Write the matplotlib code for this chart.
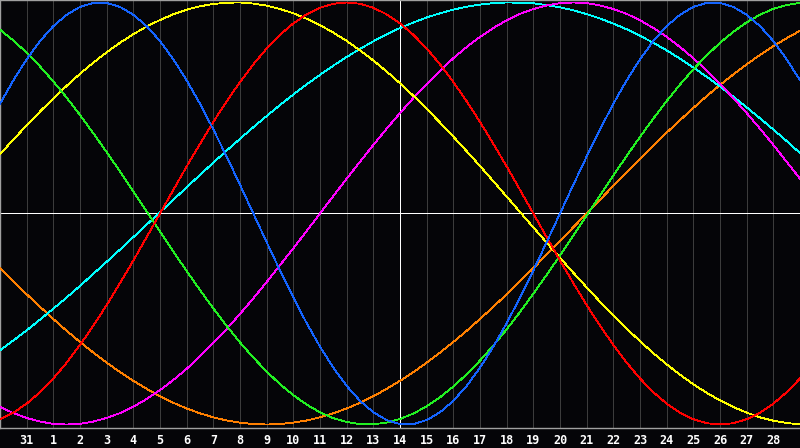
import numpy as np
import matplotlib
matplotlib.use("Agg")
import matplotlib.pyplot as plt

# Day labels along the x axis (index 14 = today, marked by the white line)
day_labels = ["31"] + [str(i) for i in range(1, 29)]
day_pos = list(range(len(day_labels)))
today = 14

# Sample positions: every half day from the left edge (-1) to the right edge (29)
t = np.arange(-2, 59) / 2.0

# Curve values (in thousandths, -1000..1000), every half day
blue = [520,631,731,817,888,942,979,998,998,979,942,888,817,731,631,520,398,270,136,0,-136,-270,-398,-520,-631,-731,-817,-888,-942,-979,-998,-998,-979,-942,-888,-817,-731,-631,-520,-398,-270,-136,0,136,270,398,520,631,731,817,888,942,979,998,998,979,942,888,817,731,631]
red = [-975,-944,-901,-847,-782,-707,-623,-532,-434,-330,-223,-112,0,112,223,330,434,532,623,707,782,847,901,944,975,994,1000,994,975,944,901,847,782,707,623,532,434,330,223,112,0,-112,-223,-330,-434,-532,-623,-707,-782,-847,-901,-944,-975,-994,-1000,-994,-975,-944,-901,-847,-782]
green = [871,820,762,697,626,549,467,380,291,199,105,10,-86,-180,-273,-363,-450,-533,-611,-683,-749,-809,-861,-906,-942,-970,-988,-998,-999,-991,-974,-948,-914,-871,-820,-762,-697,-626,-549,-467,-380,-291,-199,-105,-10,86,180,273,363,450,533,611,683,749,809,861,906,942,970,988,998]
yellow = [281,350,418,483,546,605,662,715,764,809,850,886,917,944,966,982,993,999,1000,995,985,969,949,923,893,857,818,773,725,673,617,558,496,431,364,295,225,153,80,7,-66,-138,-210,-281,-350,-418,-483,-546,-605,-662,-715,-764,-809,-850,-886,-917,-944,-966,-982,-993,-999]
magenta = [-916,-946,-969,-986,-997,-1000,-997,-986,-969,-946,-916,-879,-837,-789,-736,-677,-614,-547,-476,-402,-325,-245,-165,-83,0,83,165,245,325,402,476,547,614,677,736,789,837,879,916,946,969,986,997,1000,997,986,969,946,916,879,837,789,736,677,614,547,476,402,325,245,165]
cyan = [-648,-602,-554,-503,-451,-398,-343,-286,-229,-171,-112,-53,6,65,124,183,241,298,354,409,462,514,564,612,657,701,742,780,816,849,879,905,929,949,966,980,990,997,1000,999,996,988,977,963,945,924,900,873,842,809,773,734,692,648,602,554,503,451,398,343,286]
orange = [-259,-321,-383,-442,-500,-556,-609,-659,-707,-752,-793,-831,-866,-897,-924,-947,-966,-981,-991,-998,-1000,-998,-991,-981,-966,-947,-924,-897,-866,-831,-793,-752,-707,-659,-609,-556,-500,-442,-383,-321,-259,-195,-131,-65,0,65,131,195,259,321,383,442,500,556,609,659,707,752,793,831,866]

series = [
    (orange, "#ff8000"),
    (cyan, "#00ffff"),
    (magenta, "#ff00ff"),
    (yellow, "#ffff00"),
    (green, "#22f022"),
    (red, "#ff0000"),
    (blue, "#1464ff"),
]

bg = "#050508"
fig = plt.figure(figsize=(8, 4.48), dpi=100)
fig.patch.set_facecolor(bg)
ax = fig.add_axes([0, 20/448, 1, 428/448])
ax.set_facecolor(bg)

for p in day_pos:
    if p != today:
        ax.axvline(p, color="#3c3c3c", lw=0.6, antialiased=False, zorder=1)
ax.axvline(today, color="white", lw=0.6, antialiased=False, zorder=2)
ax.axhline(0, color="white", lw=0.6, antialiased=False, zorder=2)

for vals, col in series:
    ax.plot(t, np.array(vals) / 1000.0, color=col, lw=0.6, antialiased=False, zorder=3)

ax.set_xlim(-1, 29)
ax.set_ylim(-1.0166, 1.0118)
ax.set_xticks(day_pos)
ax.set_xticklabels(day_labels, color="white", fontsize=8.5, fontweight="bold",
                   family="DejaVu Sans Mono")
ax.tick_params(axis="x", length=0, pad=4.5)
ax.set_yticks([])
for s in ["left", "top", "bottom"]:
    ax.spines[s].set_color("#a0a0a0")
    ax.spines[s].set_linewidth(1.0)
ax.spines["right"].set_visible(False)

fig.savefig("out.png", facecolor=bg)
